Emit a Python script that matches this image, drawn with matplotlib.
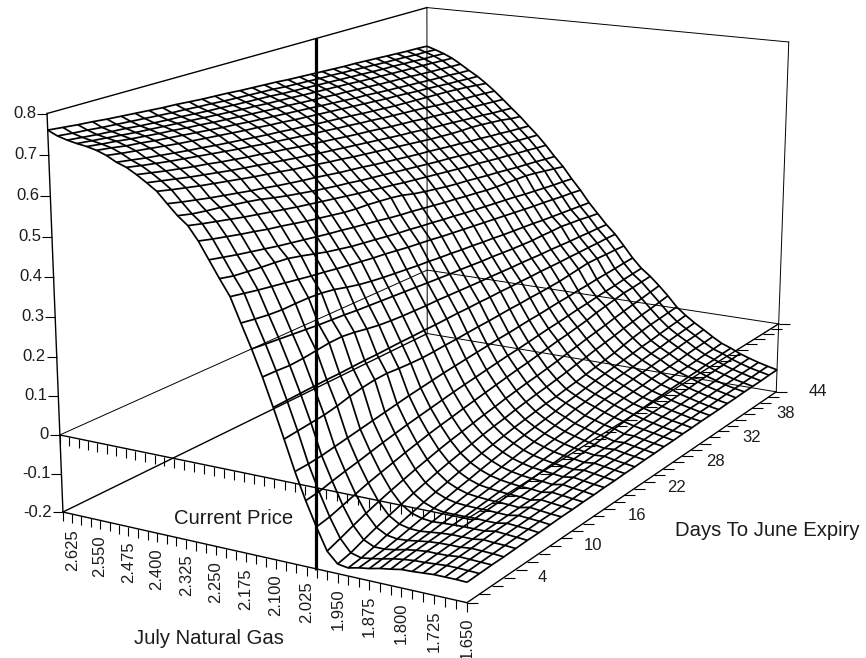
import numpy as np
import matplotlib
matplotlib.use("Agg")
import matplotlib.pyplot as plt
from matplotlib.collections import LineCollection
from matplotlib.lines import Line2D

plt.rcParams['font.family'] = ['Liberation Sans', 'DejaVu Sans']

W, H = 866, 658

# ---- data -------------------------------------------------------------
price_max, price_min = 2.65, 1.65
price_labels = ["2.625", "2.550", "2.475", "2.400", "2.325", "2.250", "2.175",
                "2.100", "2.025", "1.950", "1.875", "1.800", "1.725", "1.650"]
price_label_values = [2.625, 2.55, 2.475, 2.4, 2.325, 2.25, 2.175, 2.1, 2.025,
                      1.95, 1.875, 1.8, 1.725, 1.65]
day_labels = ["4", "10", "16", "22", "28", "32", "38", "44"]
z_labels = ["0.8", "0.7", "0.6", "0.5", "0.4", "0.3", "0.2", "0.1", "0", "-0.1", "-0.2"]
z_values = [0.8, 0.7, 0.6, 0.5, 0.4, 0.3, 0.2, 0.1, 0.0, -0.1, -0.2]

# surface height in thousandths: one row per day step, one column per price step
surface_milli = [
[760,749,742,737,733,727,718,705,696,682,666,649,623,598,578,545,504,463,424,365,307,244,175,103,29,-37,-96,-150,-176,-180,-174,-170,-164,-160,-155,-154,-152,-150,-150,-150,-151],
[756,745,738,733,728,722,712,699,689,675,659,641,615,590,570,537,497,456,418,360,304,243,176,106,30,-33,-90,-138,-168,-175,-171,-166,-160,-156,-153,-152,-150,-148,-148,-149,-150],
[752,742,734,729,724,716,707,693,683,668,652,634,608,583,563,530,490,450,412,356,301,241,177,109,33,-25,-80,-125,-155,-167,-167,-163,-157,-153,-150,-150,-149,-146,-147,-148,-149],
[749,738,731,725,719,712,702,688,677,662,645,627,601,577,556,523,484,444,407,351,298,240,178,112,38,-18,-70,-113,-143,-157,-161,-159,-155,-151,-149,-148,-148,-145,-146,-147,-149],
[745,735,728,721,715,707,697,683,672,656,639,621,595,570,549,517,478,439,402,348,295,239,179,114,43,-12,-60,-102,-132,-148,-154,-155,-152,-149,-147,-147,-147,-143,-145,-146,-148],
[742,732,724,718,711,703,692,678,667,651,633,615,589,564,543,510,472,434,397,344,292,238,179,117,48,-5,-52,-92,-122,-139,-147,-150,-148,-147,-146,-146,-146,-141,-143,-145,-147],
[739,729,721,715,708,699,688,674,662,645,627,609,583,559,537,505,467,429,392,340,290,237,180,119,53,2,-44,-83,-112,-130,-140,-145,-145,-145,-144,-145,-145,-140,-142,-144,-147],
[736,726,718,712,704,695,684,669,657,640,622,603,578,553,531,499,462,424,388,337,288,236,181,121,58,8,-36,-74,-103,-122,-133,-139,-141,-142,-142,-143,-144,-139,-141,-143,-146],
[733,723,716,709,701,691,680,665,652,635,617,598,572,548,525,493,457,419,383,333,285,235,181,124,63,14,-29,-66,-94,-114,-126,-134,-137,-139,-140,-141,-143,-137,-140,-143,-145],
[731,721,713,706,697,687,676,661,648,631,612,593,567,543,520,488,452,415,379,330,283,234,182,126,68,19,-22,-58,-86,-106,-120,-129,-133,-136,-138,-139,-142,-136,-139,-142,-145],
[728,718,710,703,694,684,672,657,643,626,607,587,562,538,515,483,448,410,375,327,281,233,183,128,72,24,-16,-51,-79,-99,-113,-123,-129,-133,-136,-137,-140,-135,-138,-141,-144],
[725,716,708,700,691,680,669,653,639,622,602,583,558,533,510,478,443,406,371,324,279,232,183,130,76,29,-11,-45,-72,-92,-107,-118,-125,-130,-133,-135,-138,-133,-137,-140,-144],
[723,713,705,697,688,677,665,650,635,617,598,578,553,528,505,473,439,402,368,321,277,231,184,132,80,34,-5,-39,-65,-86,-101,-113,-121,-127,-130,-133,-136,-132,-136,-140,-143],
[721,711,703,695,685,674,662,646,631,613,593,573,548,524,500,469,435,398,364,318,275,230,184,134,83,38,0,-33,-59,-80,-95,-108,-117,-123,-128,-131,-134,-131,-135,-139,-143],
[718,709,701,692,682,671,658,643,627,609,589,569,544,519,496,464,430,394,360,315,273,230,185,135,86,42,5,-28,-54,-74,-90,-103,-112,-120,-125,-129,-133,-130,-134,-138,-142],
[716,707,699,690,680,668,655,639,624,605,585,564,540,515,491,460,426,391,357,313,271,229,186,137,89,46,10,-22,-48,-69,-85,-98,-108,-116,-122,-127,-131,-129,-134,-138,-142],
[714,705,696,688,677,665,652,636,620,601,581,560,535,511,487,456,423,387,354,310,269,228,186,139,92,50,15,-17,-43,-64,-80,-93,-104,-112,-119,-125,-130,-128,-133,-137,-141],
[712,702,694,685,674,662,649,633,617,597,577,556,531,507,482,451,419,384,350,308,268,227,187,140,95,54,20,-12,-38,-59,-75,-87,-99,-107,-115,-121,-128,-127,-132,-136,-141],
[709,700,692,683,672,659,646,630,613,594,573,552,527,503,478,447,415,380,347,305,266,226,187,142,97,57,24,-8,-34,-56,-69,-81,-94,-102,-110,-116,-125,-126,-131,-136,-140],
[707,698,690,681,669,656,643,626,610,590,569,548,523,499,474,443,411,377,344,303,264,226,188,144,100,61,29,-3,-29,-51,-65,-77,-87,-97,-106,-113,-120,-125,-130,-135,-140],
[705,696,688,679,667,653,640,623,606,586,565,544,519,495,470,439,408,373,341,300,263,225,188,145,103,65,34,2,-24,-47,-60,-72,-82,-93,-102,-110,-118,-124,-130,-135,-139],
[703,695,686,677,664,651,637,620,603,583,562,540,516,491,466,435,404,370,338,298,261,224,189,147,105,69,39,8,-18,-42,-55,-68,-79,-90,-101,-108,-116,-123,-129,-134,-139],
[701,693,684,674,662,648,634,617,600,580,558,536,512,488,462,432,401,367,335,295,259,224,189,148,108,72,43,13,-13,-37,-51,-64,-76,-88,-99,-106,-115,-122,-128,-134,-138],
[699,691,682,672,659,645,632,615,597,576,554,533,508,484,458,428,397,364,332,293,258,223,190,150,111,76,48,19,-7,-32,-47,-61,-73,-86,-97,-105,-114,-121,-127,-133,-138],
[698,689,680,670,657,643,629,612,594,573,551,529,505,480,455,424,394,361,329,291,256,222,190,151,113,80,52,24,-2,-28,-43,-58,-70,-83,-95,-103,-113,-120,-127,-133,-138],
[696,687,678,668,655,640,626,609,590,570,548,525,501,477,451,421,391,358,326,289,255,222,190,153,116,83,57,29,3,-23,-39,-54,-67,-81,-93,-102,-112,-119,-126,-132,-137],
[694,685,677,666,653,638,624,606,587,566,544,522,498,473,447,417,387,354,323,286,253,221,191,154,118,87,61,35,9,-18,-35,-51,-64,-79,-91,-100,-110,-118,-125,-131,-137],
[692,684,675,664,650,635,621,603,584,563,541,518,494,470,444,413,384,351,321,284,252,220,191,156,121,90,65,40,14,-14,-32,-48,-62,-77,-90,-99,-109,-117,-125,-131,-136],
[690,682,673,663,648,633,618,601,581,560,538,515,491,467,440,410,381,348,318,282,250,220,192,157,123,93,70,45,19,-10,-28,-44,-59,-74,-88,-97,-108,-116,-124,-130,-136],
[688,680,671,661,646,631,616,598,579,557,534,512,487,463,437,407,378,345,315,280,249,219,192,158,125,97,74,49,23,-5,-24,-41,-56,-72,-86,-96,-107,-116,-123,-130,-136],
[687,679,670,659,644,628,613,596,576,554,531,508,484,460,433,403,375,343,313,278,247,219,193,160,128,100,78,54,28,-1,-21,-38,-54,-70,-85,-94,-106,-115,-123,-129,-135],
[685,677,668,657,642,626,611,593,573,551,528,505,481,457,430,400,372,340,310,276,246,218,193,161,130,103,82,59,33,3,-17,-35,-51,-68,-83,-93,-105,-114,-122,-129,-135],
]

# gentle kinks: (column, first row, raise in thousandths)
kink_cols = [13, 17, 19, 21, 23, 15, 7, 11, 16, 20, 23, 26, 29]
kink_rows = [2, 2, 3, 3, 4, 12, 24, 24, 24, 24, 24, 24, 24]
kink_milli = [
    [2, 4, 6, 7, 6, 4, 2, 1],
    [3, 6, 9, 11, 9, 6, 3, 1],
    [3, 7, 11, 13, 11, 7, 3, 1],
    [3, 8, 13, 15, 12, 7, 3, 1],
    [4, 9, 13, 15, 13, 8, 4, 1],
    [2, 5, 7, 8, 7, 4, 2, 1],
    [1, 2, 3, 4, 3, 3, 1, 0],
    [1, 3, 5, 6, 5, 4, 2, 1],
    [1, 3, 6, 8, 7, 5, 3, 1],
    [1, 3, 5, 7, 6, 5, 3, 1],
    [1, 3, 6, 8, 7, 5, 3, 1],
    [1, 3, 4, 5, 5, 3, 2, 1],
    [1, 3, 4, 5, 5, 3, 2, 1],
]

Z = np.array(surface_milli, dtype=float)
for c, r0, vals in zip(kink_cols, kink_rows, kink_milli):
    Z[r0:r0 + len(vals), c] += vals
Z /= 1000.0
n_days, n_prices = Z.shape
prices = np.linspace(price_max, price_min, n_prices)
day_idx = np.arange(n_days)          # day axis, in tick steps
zlo, zmid, zhi = -0.2, 0.0, 0.8
ylast = n_days - 1

# ---- camera: reference box corners (world -> image pixels) ---------------
calib = [
    ((2.65, 0, -0.2), (63, 512.5)), ((2.65, 0, 0.0), (60, 435)), ((2.65, 0, 0.8), (47, 113)),
    ((1.65, 0, -0.2), (467, 602)), ((1.725, 0, 0.0), (433, 512)),
    ((2.25, 0, -0.2), (216, 546.6)), ((2.025, 0, -0.2), (307, 567)),
    ((1.65, 31, -0.2), (777, 392)), ((1.65, 31, 0.0), (778, 324)), ((1.65, 31, 0.8), (789, 42)),
    ((2.65, 31, -0.2), (427, 333)), ((2.65, 31, 0.0), (427, 270)), ((2.65, 31, 0.8), (427, 8)),
]
Nw = np.array([[1, 0, 0, -2.15], [0, 1 / 15.5, 0, -1], [0, 0, 1, -0.3], [0, 0, 0, 1.0]])
rows = []
for (w3, (u, v)) in calib:
    Xn = Nw @ np.array([*w3, 1.0])
    un, vn = u / 433.0, v / 433.0
    rows.append(np.r_[Xn, np.zeros(4), -un * Xn])
    rows.append(np.r_[np.zeros(4), Xn, -vn * Xn])
Pn = np.linalg.svd(np.array(rows))[2][-1].reshape(3, 4)
P = np.diag([433.0, 433.0, 1.0]) @ Pn @ Nw


def px(x, y, z):
    """Image pixel (top-left origin) of a world point."""
    q = P @ np.array([x, y, z, 1.0])
    return q[0] / q[2], q[1] / q[2]


fig = plt.figure(figsize=(W / 100, H / 100), dpi=100, facecolor='white')
ax = fig.add_axes([0, (H - W) / 2 / H, 1, W / H], projection='3d')
ax.set_axis_off()
ax.set_proj_type('ortho')      # no near/far clipping; the matrix below carries the perspective
ax.patch.set_alpha(0)


def calibrated_proj():
    inv = ax.transData.inverted()
    d0 = inv.transform((0, 0))
    sx = inv.transform((1, 0))[0] - d0[0]
    sy = inv.transform((0, 1))[1] - d0[1]
    r0 = d0[0] * P[2] + sx * P[0]
    r1 = (d0[1] + sy * H) * P[2] - sy * P[1]
    r3 = P[2]
    depth = np.linalg.svd(np.array([r0, r1, r3]))[2][-1]
    return np.array([r0, r1, depth, r3])


ax.get_proj = calibrated_proj

# ---- surface ----------------------------------------------------------
XX, YY = np.meshgrid(prices, day_idx)
ax.plot_wireframe(XX, YY, Z, rstride=1, cstride=1, color='black', linewidth=1.25)

# ---- box --------------------------------------------------------------
A, B, C, D = (price_max, 0), (price_min, 0), (price_min, ylast), (price_max, ylast)
thin = dict(color='black', linewidth=0.7)
heavy = dict(color='black', linewidth=1.0)


def edge(p, q, z0, z1=None, **kw):
    z1 = z0 if z1 is None else z1
    ax.plot([p[0], q[0]], [p[1], q[1]], [z0, z1], **kw)


edge(A, B, zlo, **heavy)
edge(B, C, zlo, **heavy)
edge(C, D, zlo, **thin)
edge(D, A, zlo, **heavy)
edge(A, B, zmid, **heavy)
edge(B, C, zmid, **heavy)
edge(C, D, zmid, **thin)
edge(D, A, zmid, **thin)
edge(A, D, zhi, **heavy)
edge(D, C, zhi, **thin)
edge(A, A, zlo, zhi, **heavy)
edge(C, C, zlo, zhi, **thin)
edge(D, D, zlo, zhi, **thin)

# ---- ticks (straight in the image) ---------------------------------------
segs = []
for p in prices:
    for zp in (zlo, zmid):
        u, v = px(p, 0, zp)
        segs.append([(u, v), (u, v + 9)])
for d in day_idx:
    for zp in (zlo, zmid):
        u, v = px(price_min, d, zp)
        segs.append([(u, v), (u + 11, v)])
for zv in z_values:
    u, v = px(price_max, 0, zv)
    segs.append([(u, v), (u - 10, v)])
segs_fig = [[(a / W, 1 - b / H) for a, b in s] for s in segs]
fig.add_artist(LineCollection(segs_fig, colors='black', linewidths=0.8,
                              transform=fig.transFigure))

# ---- current price marker ----------------------------------------------
fig.add_artist(Line2D([316 / W, 316 / W], [1 - 38 / H, 1 - 570 / H], color='black',
                      linewidth=2.3, transform=fig.transFigure, solid_capstyle='butt'))

# ---- text ---------------------------------------------------------------
tc = '#1c1c1c'


def label(u, v, s, size=12, **kw):
    fig.text(u / W, 1 - v / H, s, fontsize=size, color=tc, **kw)


for zv, s in zip(z_values, z_labels):
    u, v = px(price_max, 0, zv)
    label(u - 11, v, s, ha='right', va='center')
for pv, s in zip(price_label_values, price_labels):
    u, v = px(pv, 0, zlo)
    label(u, v + 15, s, rotation=90, ha='center', va='top')
day_label_px = [(542, 577), (593, 545), (637, 516), (677, 488), (715, 462), (752, 437), (786, 414), (818, 392)]
for (u, v), s in zip(day_label_px, day_labels):
    label(u, v, s, ha='center', va='center')
label(174, 519, "Current Price", size=14.6, ha='left', va='center')
label(134, 639, "July Natural Gas", size=14.6, ha='left', va='center')
label(675, 531, "Days To June Expiry", size=14.6, ha='left', va='center')

fig.savefig("out.png", dpi=100)
